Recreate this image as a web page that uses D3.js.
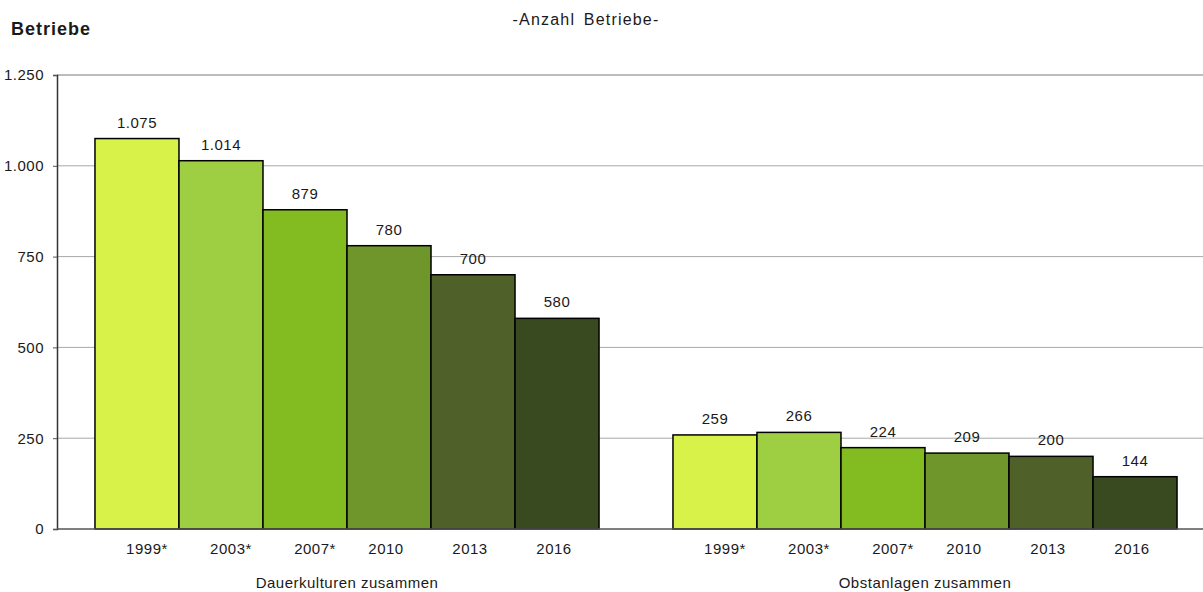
<!DOCTYPE html>
<html>
<head>
<meta charset="utf-8">
<script src="https://cdn.jsdelivr.net/npm/d3@7"></script>
<style>
  body { margin: 0; background: #fff; }
  text { font-family: "Liberation Sans", Arial, sans-serif; fill: #1a1a1a; letter-spacing: 0.5px; }
</style>
</head>
<body>
<div id="chart"></div>
<script>
// data
const groups = ["Dauerkulturen zusammen", "Obstanlagen zusammen"];
const years = ["1999*", "2003*", "2007*", "2010", "2013", "2016"];
const dauerkulturen = [1075, 1014, 879, 780, 700, 580];
const obstanlagen = [259, 266, 224, 209, 200, 144];
const yTicks = [0, 250, 500, 750, 1000, 1250];
const yearColors = ["#d9f24a", "#9ecf42", "#82bc20", "#6e962a", "#4f6128", "#3a4a20"];

const seriesByGroup = [dauerkulturen, obstanlagen];

const W = 1203, H = 592;
const m = {t: 75, r: 0, b: 63, l: 57};

const de = d3.formatLocale({decimal: ",", thousands: ".", grouping: [3], currency: ["", " €"]});
const fmt = de.format(",");

const svg = d3.select("#chart").append("svg")
    .attr("width", W).attr("height", H);

// scales
const y = d3.scaleLinear().domain([0, 1250]).range([H - m.b, m.t]);
const x0 = d3.scaleBand().domain(groups).range([m.l + 1, m.l + 1 + 2 * 578]);
const x1 = d3.scaleBand().domain(years).range([0, x0.bandwidth()]).paddingOuter(0.44);
const color = d3.scaleOrdinal().domain(years).range(yearColors);

// gridlines
svg.append("g").selectAll("line").data(yTicks.filter(d => d > 0)).enter()
    .append("line")
    .attr("x1", m.l).attr("x2", W)
    .attr("y1", d => y(d)).attr("y2", d => y(d))
    .attr("stroke", d => d === 1250 ? "#7a7a7a" : "#a8a8a8")
    .attr("stroke-width", 1);

// y axis
const yAxis = svg.append("g")
    .attr("transform", "translate(" + m.l + ",0)")
    .call(d3.axisLeft(y).tickValues(yTicks).tickFormat(fmt).tickSize(4).tickPadding(9));
yAxis.select(".domain").attr("stroke", "#333").attr("stroke-width", 1.5);
yAxis.selectAll(".tick line").attr("stroke", "#555");
yAxis.selectAll("text").style("font-size", "15px")
    .style("font-family", "'Liberation Sans', Arial, sans-serif").attr("fill", "#1a1a1a");

// bars
const grp = svg.append("g").selectAll("g").data(groups).enter()
    .append("g")
    .attr("transform", d => "translate(" + x0(d) + ",0)");

const bars = grp.selectAll(".bar")
    .data((g, gi) => years.map((yr, i) => ({year: yr, value: seriesByGroup[gi][i]})))
    .enter().append("g").attr("class", "bar");

bars.append("rect")
    .attr("x", d => x1(d.year))
    .attr("y", d => y(d.value))
    .attr("width", x1.bandwidth())
    .attr("height", d => y(0) - y(d.value))
    .attr("fill", d => color(d.year))
    .attr("stroke", "#000")
    .attr("stroke-width", 1.5);

// value labels
bars.append("text")
    .attr("x", d => x1(d.year) + x1.bandwidth() / 2)
    .attr("y", d => y(d.value) - 11)
    .attr("text-anchor", "middle")
    .style("font-size", "15px")
    .text(d => fmt(d.value));

// year labels
grp.selectAll(".yr").data(years).enter()
    .append("text").attr("class", "yr")
    .attr("x", d => x1(d) + x1.bandwidth() / 2 + (d.endsWith("*") ? 10 : -3))
    .attr("y", y(0) + 25)
    .attr("text-anchor", "middle")
    .style("font-size", "15px")
    .text(d => d);

// group labels
grp.append("text")
    .attr("x", (x1(years[0]) + x1(years[years.length - 1]) + x1.bandwidth()) / 2)
    .attr("y", y(0) + 59)
    .attr("text-anchor", "middle")
    .style("font-size", "15px")
    .text(d => d);

// x axis line
svg.append("line")
    .attr("x1", m.l).attr("x2", W)
    .attr("y1", y(0)).attr("y2", y(0))
    .attr("stroke", "#555").attr("stroke-width", 1.5);

// titles
svg.append("text")
    .attr("x", 11).attr("y", 35)
    .style("font-size", "18px").style("font-weight", "bold")
    .style("letter-spacing", "1px")
    .text("Betriebe");

svg.append("text")
    .attr("x", 586).attr("y", 25)
    .attr("text-anchor", "middle")
    .style("font-size", "16px")
    .style("letter-spacing", "1.2px")
    .style("word-spacing", "3px")
    .text("-Anzahl Betriebe-");
</script>
</body>
</html>
